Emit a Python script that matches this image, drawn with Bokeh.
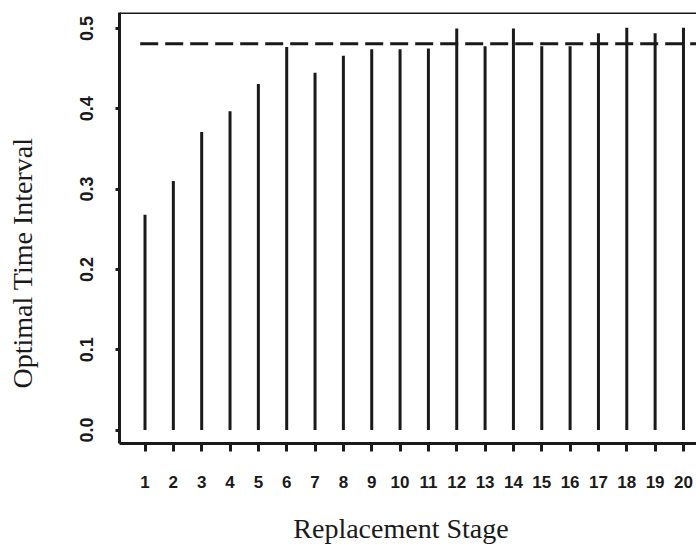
from bokeh.plotting import figure
from bokeh.models import FixedTicker, Range1d, ColumnDataSource, CustomJSTickFormatter, Span
from bokeh.embed import file_html
from bokeh.resources import INLINE

# --- data ---
stages = list(range(1, 21))
intervals = [0.268, 0.310, 0.371, 0.397, 0.431, 0.477, 0.445, 0.466, 0.474, 0.474,
             0.475, 0.500, 0.478, 0.500, 0.478, 0.478, 0.494, 0.501, 0.494, 0.501]
limit_value = 0.481
y_ticks = [0.0, 0.1, 0.2, 0.3, 0.4, 0.5]
x_title = "Replacement Stage"
y_title = "Optimal Time Interval"

INK = "#1a1a1a"
NBSP = "\u00a0"

p = figure(width=696, height=546, output_backend="svg", toolbar_location=None,
           x_range=Range1d(0.10, 20.46), y_range=Range1d(-0.0168, 0.5199),
           min_border_left=119, min_border_right=0, min_border_top=12, min_border_bottom=102)
p.outline_line_color = None
p.grid.visible = False
p.background_fill_color = "white"
p.border_fill_color = "white"

src = ColumnDataSource(dict(x=stages, base=[0.0] * len(stages), top=intervals))
p.segment(x0="x", y0="base", x1="x", y1="top", source=src,
          line_color=INK, line_width=3, line_cap="butt")

lx = [min(stages) - 0.17, max(stages) + 1]
p.line(x=lx, y=[limit_value, limit_value], line_color=INK, line_width=3,
       line_dash="18 7")

# box top line
p.add_layout(Span(location=p.y_range.end, dimension="width", line_color=INK, line_width=3))

# axes
xa = p.xaxis[0]
xa.ticker = FixedTicker(ticks=stages)
xa.axis_line_width = 3
xa.axis_line_color = INK
xa.major_tick_line_width = 3
xa.major_tick_line_color = INK
xa.major_tick_out = 8
xa.major_tick_in = 0
xa.minor_tick_line_color = None
xa.major_label_text_font = "Liberation Sans"
xa.major_label_text_font_style = "bold"
xa.major_label_text_font_size = "17px"
xa.major_label_text_color = INK
xa.major_label_standoff = 24
xa.axis_label = x_title + NBSP * 2
xa.axis_label_text_font = "Liberation Serif"
xa.axis_label_text_font_style = "normal"
xa.axis_label_text_font_size = "28px"
xa.axis_label_text_color = INK
xa.axis_label_standoff = 22

ya = p.yaxis[0]
ya.ticker = FixedTicker(ticks=y_ticks)
ya.formatter = CustomJSTickFormatter(code="return tick.toFixed(1);")
ya.axis_line_width = 3
ya.axis_line_color = INK
ya.major_tick_line_width = 3
ya.major_tick_line_color = INK
ya.major_tick_out = 4
ya.major_tick_in = 0
ya.minor_tick_line_color = None
ya.major_label_orientation = "vertical"
ya.major_label_text_font = "Liberation Sans"
ya.major_label_text_font_style = "bold"
ya.major_label_text_font_size = "18px"
ya.major_label_text_color = INK
ya.major_label_standoff = 22
ya.axis_label = y_title + NBSP * 10
ya.axis_label_text_font = "Liberation Serif"
ya.axis_label_text_font_style = "normal"
ya.axis_label_text_font_size = "28px"
ya.axis_label_text_color = INK
ya.axis_label_standoff = 40

open("out.html", "w").write(file_html(p, INLINE))
